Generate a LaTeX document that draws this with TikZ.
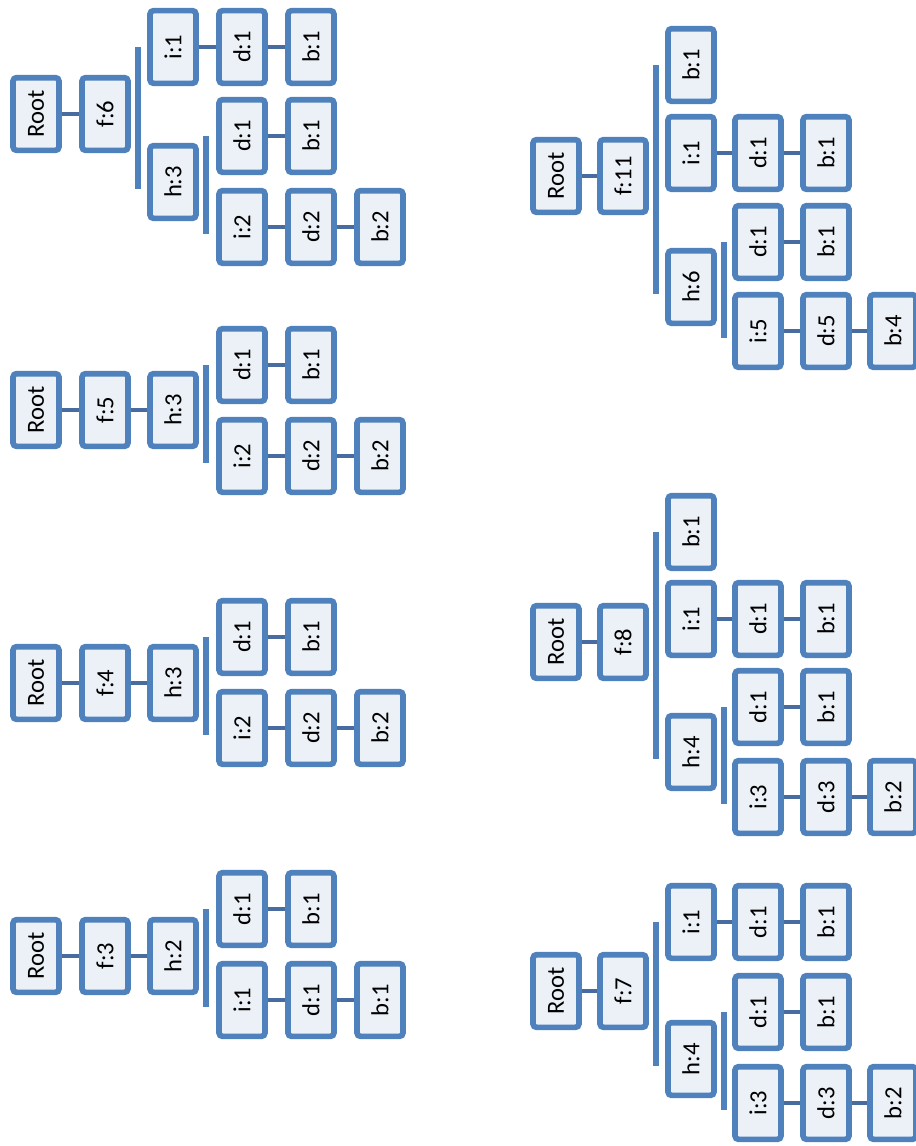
\documentclass[tikz,border=0pt]{standalone}
\usepackage{fontspec}
\setmainfont{Carlito}
\definecolor{treeblue}{RGB}{79,129,189}
\definecolor{treefill}{RGB}{236,241,248}
\definecolor{treelink}{RGB}{72,108,160}
\newcommand{\uptext}[1]{\rotatebox{90}{#1}}

\begin{document}
\begin{tikzpicture}[x=0.03cm,y=-0.03cm,
  item/.style={rectangle,rounded corners=3pt,draw=treeblue,fill=treefill,line width=0.17cm,
    minimum width=1.38cm,minimum height=2.18cm,inner sep=0pt,font=\fontsize{21}{24}\selectfont},
  link/.style={draw=treelink,line width=0.12cm},
  bar/.style={draw=treeblue,line width=0.18cm}
]
\useasboundingbox (0,0) rectangle (915,1146);

% f:6
\node[item] (aroot) at (36,114) {\uptext{Root}};
\node[item] (af) at (105,114) {\uptext{f:6}};
\node[item] (ai) at (173,47) {\uptext{i:1}};
\node[item] (aid) at (242,47) {\uptext{d:1}};
\node[item] (aidb) at (311,47) {\uptext{b:1}};
\node[item] (ah) at (173,182) {\uptext{h:3}};
\node[item] (ahd) at (242,136) {\uptext{d:1}};
\node[item] (ahdb) at (311,136) {\uptext{b:1}};
\node[item] (ahi) at (242,227) {\uptext{i:2}};
\node[item] (ahid) at (311,227) {\uptext{d:2}};
\node[item] (ahidb) at (380,227) {\uptext{b:2}};
\draw[link] (aroot) -- (af);
\draw[link] (ai) -- (aid);
\draw[link] (aid) -- (aidb);
\draw[link] (ahd) -- (ahdb);
\draw[link] (ahi) -- (ahid);
\draw[link] (ahid) -- (ahidb);
\draw[bar] ([xshift=0.2cm]af.east |- ai.center) -- ([xshift=0.2cm,yshift=-0.2cm]af.east |- ah.center);
\draw[bar] ([xshift=0.2cm]ah.east |- ahd.center) -- ([xshift=0.2cm,yshift=-0.2cm]ah.east |- ahi.center);

% f:5
\node[item] (broot) at (36,410) {\uptext{Root}};
\node[item] (bf) at (105,410) {\uptext{f:5}};
\node[item] (bh) at (173,410) {\uptext{h:3}};
\node[item] (bhd) at (242,365) {\uptext{d:1}};
\node[item] (bhdb) at (311,365) {\uptext{b:1}};
\node[item] (bhi) at (242,456) {\uptext{i:2}};
\node[item] (bhid) at (311,456) {\uptext{d:2}};
\node[item] (bhidb) at (380,456) {\uptext{b:2}};
\draw[link] (broot) -- (bf);
\draw[link] (bf) -- (bh);
\draw[link] (bhd) -- (bhdb);
\draw[link] (bhi) -- (bhid);
\draw[link] (bhid) -- (bhidb);
\draw[bar] ([xshift=0.2cm]bh.east |- bhd.center) -- ([xshift=0.2cm,yshift=-0.2cm]bh.east |- bhi.center);

% f:4
\node[item] (croot) at (36,683) {\uptext{Root}};
\node[item] (cf) at (105,683) {\uptext{f:4}};
\node[item] (ch) at (173,683) {\uptext{h:3}};
\node[item] (chd) at (242,637) {\uptext{d:1}};
\node[item] (chdb) at (311,637) {\uptext{b:1}};
\node[item] (chi) at (242,728) {\uptext{i:2}};
\node[item] (chid) at (311,728) {\uptext{d:2}};
\node[item] (chidb) at (380,728) {\uptext{b:2}};
\draw[link] (croot) -- (cf);
\draw[link] (cf) -- (ch);
\draw[link] (chd) -- (chdb);
\draw[link] (chi) -- (chid);
\draw[link] (chid) -- (chidb);
\draw[bar] ([xshift=0.2cm]ch.east |- chd.center) -- ([xshift=0.2cm,yshift=-0.2cm]ch.east |- chi.center);

% f:3
\node[item] (droot) at (36,956) {\uptext{Root}};
\node[item] (df) at (105,956) {\uptext{f:3}};
\node[item] (dh) at (173,956) {\uptext{h:2}};
\node[item] (dhd) at (242,909) {\uptext{d:1}};
\node[item] (dhdb) at (311,909) {\uptext{b:1}};
\node[item] (dhi) at (242,1000) {\uptext{i:1}};
\node[item] (dhid) at (311,1000) {\uptext{d:1}};
\node[item] (dhidb) at (380,1000) {\uptext{b:1}};
\draw[link] (droot) -- (df);
\draw[link] (df) -- (dh);
\draw[link] (dhd) -- (dhdb);
\draw[link] (dhi) -- (dhid);
\draw[link] (dhid) -- (dhidb);
\draw[bar] ([xshift=0.2cm]dh.east |- dhd.center) -- ([xshift=0.2cm,yshift=-0.2cm]dh.east |- dhi.center);

% f:11
\node[item] (eroot) at (556,176) {\uptext{Root}};
\node[item] (ef) at (623,176) {\uptext{f:11}};
\node[item] (eb) at (691,65) {\uptext{b:1}};
\node[item] (ei) at (691,153) {\uptext{i:1}};
\node[item] (eid) at (758,153) {\uptext{d:1}};
\node[item] (eidb) at (826,153) {\uptext{b:1}};
\node[item] (eh) at (691,287) {\uptext{h:6}};
\node[item] (ehd) at (758,242) {\uptext{d:1}};
\node[item] (ehdb) at (826,242) {\uptext{b:1}};
\node[item] (ehi) at (758,331) {\uptext{i:5}};
\node[item] (ehid) at (826,331) {\uptext{d:5}};
\node[item] (ehidb) at (893,331) {\uptext{b:4}};
\draw[link] (eroot) -- (ef);
\draw[link] (ei) -- (eid);
\draw[link] (eid) -- (eidb);
\draw[link] (ehd) -- (ehdb);
\draw[link] (ehi) -- (ehid);
\draw[link] (ehid) -- (ehidb);
\draw[bar] ([xshift=0.2cm]ef.east |- eb.center) -- ([xshift=0.2cm,yshift=-0.2cm]ef.east |- eh.center);
\draw[bar] ([xshift=0.2cm]eh.east |- ehd.center) -- ([xshift=0.2cm,yshift=-0.2cm]eh.east |- ehi.center);

% f:8
\node[item] (froot) at (556,642) {\uptext{Root}};
\node[item] (ff) at (623,642) {\uptext{f:8}};
\node[item] (fb) at (691,532) {\uptext{b:1}};
\node[item] (fi) at (691,619) {\uptext{i:1}};
\node[item] (fid) at (758,619) {\uptext{d:1}};
\node[item] (fidb) at (826,619) {\uptext{b:1}};
\node[item] (fh) at (691,752) {\uptext{h:4}};
\node[item] (fhd) at (758,707) {\uptext{d:1}};
\node[item] (fhdb) at (826,707) {\uptext{b:1}};
\node[item] (fhi) at (758,797) {\uptext{i:3}};
\node[item] (fhid) at (826,797) {\uptext{d:3}};
\node[item] (fhidb) at (893,797) {\uptext{b:2}};
\draw[link] (froot) -- (ff);
\draw[link] (fi) -- (fid);
\draw[link] (fid) -- (fidb);
\draw[link] (fhd) -- (fhdb);
\draw[link] (fhi) -- (fhid);
\draw[link] (fhid) -- (fhidb);
\draw[bar] ([xshift=0.2cm]ff.east |- fb.center) -- ([xshift=0.2cm,yshift=-0.2cm]ff.east |- fh.center);
\draw[bar] ([xshift=0.2cm]fh.east |- fhd.center) -- ([xshift=0.2cm,yshift=-0.2cm]fh.east |- fhi.center);

% f:7
\node[item] (groot) at (556,991) {\uptext{Root}};
\node[item] (gf) at (623,991) {\uptext{f:7}};
\node[item] (gi) at (691,922) {\uptext{i:1}};
\node[item] (gid) at (758,922) {\uptext{d:1}};
\node[item] (gidb) at (826,922) {\uptext{b:1}};
\node[item] (gh) at (691,1059) {\uptext{h:4}};
\node[item] (ghd) at (758,1012) {\uptext{d:1}};
\node[item] (ghdb) at (826,1012) {\uptext{b:1}};
\node[item] (ghi) at (758,1103) {\uptext{i:3}};
\node[item] (ghid) at (826,1103) {\uptext{d:3}};
\node[item] (ghidb) at (893,1103) {\uptext{b:2}};
\draw[link] (groot) -- (gf);
\draw[link] (gi) -- (gid);
\draw[link] (gid) -- (gidb);
\draw[link] (ghd) -- (ghdb);
\draw[link] (ghi) -- (ghid);
\draw[link] (ghid) -- (ghidb);
\draw[bar] ([xshift=0.2cm]gf.east |- gi.center) -- ([xshift=0.2cm,yshift=-0.2cm]gf.east |- gh.center);
\draw[bar] ([xshift=0.2cm]gh.east |- ghd.center) -- ([xshift=0.2cm,yshift=-0.2cm]gh.east |- ghi.center);
\end{tikzpicture}
\end{document}
